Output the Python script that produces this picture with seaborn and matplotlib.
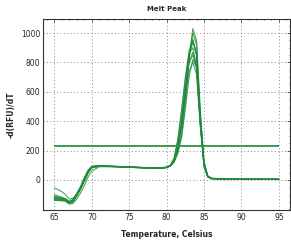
import matplotlib
matplotlib.use("Agg")
import matplotlib.pyplot as plt
from matplotlib.ticker import MultipleLocator
import seaborn as sns
import pandas as pd

# temperature grid shared by all melt curves (Celsius)
temps = [65, 65.5, 66, 66.5, 67, 67.5, 68, 68.5, 69, 69.5, 70, 71, 73, 75, 77, 79,
         80, 80.5, 81, 81.5, 82, 82.5, 83, 83.5, 84, 84.5, 85, 85.5, 86, 88, 91, 95]

# -d(RFU)/dT per well
well_a = [-100, -110, -118, -130, -150, -140, -105, -60, 0, 55, 88, 96, 93, 89, 85, 83,
          88, 98, 125, 190, 300, 520, 820, 1030, 950, 480, 125, 28, 12, 6, 5, 5]
well_b = [-125, -128, -130, -138, -155, -140, -98, -50, 10, 62, 92, 97, 92, 88, 84, 81,
          86, 96, 125, 200, 345, 570, 830, 1000, 920, 450, 115, 26, 11, 6, 5, 5]
well_c = [-55, -65, -80, -100, -130, -125, -95, -55, -5, 50, 85, 94, 91, 87, 83, 80,
          84, 97, 140, 260, 450, 680, 880, 960, 850, 410, 105, 25, 10, 6, 5, 4]
well_d = [-130, -133, -135, -140, -160, -150, -110, -65, -10, 45, 82, 93, 90, 86, 82, 80,
          85, 96, 135, 230, 390, 620, 850, 940, 850, 420, 105, 24, 10, 5, 5, 4]
well_e = [-115, -120, -125, -132, -148, -138, -100, -55, 5, 58, 90, 95, 91, 86, 83, 80,
          85, 100, 150, 280, 480, 700, 860, 900, 780, 380, 95, 22, 10, 5, 4, 4]
well_f = [-140, -140, -142, -145, -165, -160, -130, -90, -40, 20, 60, 90, 90, 86, 82, 79,
          84, 95, 130, 220, 380, 600, 800, 870, 780, 390, 98, 22, 9, 5, 4, 4]
well_g = [-110, -115, -120, -128, -145, -132, -92, -45, 15, 65, 93, 97, 93, 88, 84, 81,
          86, 97, 138, 235, 395, 610, 800, 850, 760, 380, 95, 20, 9, 5, 4, 4]
well_h = [-135, -138, -140, -142, -158, -148, -108, -62, -8, 48, 85, 94, 91, 87, 83, 80,
          84, 94, 120, 180, 290, 480, 700, 820, 770, 400, 100, 22, 9, 5, 4, 4]
well_i = [-120, -124, -128, -134, -150, -142, -102, -58, 0, 55, 88, 95, 92, 87, 83, 80,
          85, 95, 128, 215, 365, 560, 740, 800, 720, 360, 90, 19, 8, 5, 4, 4]
well_j = [-128, -130, -133, -138, -152, -140, -100, -52, 5, 60, 90, 96, 92, 88, 84, 81,
          86, 97, 132, 225, 385, 610, 840, 950, 860, 430, 108, 24, 10, 5, 5, 4]

wells = {"A": well_a, "B": well_b, "C": well_c, "D": well_d, "E": well_e,
         "F": well_f, "G": well_g, "H": well_h, "I": well_i, "J": well_j}

threshold = 232

rows = []
for name, vals in wells.items():
    for t, v in zip(temps, vals):
        rows.append({"well": name, "temp": t, "val": v})
df = pd.DataFrame(rows)

sns.set_style("white")
plt.rcParams["font.family"] = ["Liberation Sans Narrow", "DejaVu Sans"]

fig = plt.figure(figsize=(2.91, 2.42), dpi=100)
ax = fig.add_axes([0.148, 0.132, 0.849, 0.789])

sns.lineplot(data=df, x="temp", y="val", units="well", estimator=None,
             color="#1f8a3b", linewidth=0.8, alpha=0.8, ax=ax, legend=False)
ax.hlines(threshold, temps[0], temps[-1], color="#2a9446", linewidth=1.3)

ax.set_xlim(63.5, 96.5)
ax.set_ylim(-205, 1095)
ax.xaxis.set_major_locator(MultipleLocator(5))
ax.xaxis.set_minor_locator(MultipleLocator(1))
ax.set_yticks([0, 200, 400, 600, 800, 1000])
ax.yaxis.set_minor_locator(MultipleLocator(50))

ax.grid(True, which="major", linestyle=(0, (1, 2.5)), color="#888888", linewidth=0.7)
ax.tick_params(which="both", direction="in", top=True, right=True, labelsize=5.5,
               length=2, width=0.5, pad=2)
ax.tick_params(which="minor", length=1)
for s in ax.spines.values():
    s.set_linewidth(0.8)
    s.set_color("#333333")

ax.set_title("Melt Peak", fontsize=5, fontweight="bold", pad=6)
ax.set_xlabel("Temperature, Celsius", fontsize=5.5, fontweight="bold", labelpad=6)
ax.set_ylabel("-d(RFU)/dT", fontsize=5.5, fontweight="bold", labelpad=4)

fig.savefig("out.png", dpi=100)
